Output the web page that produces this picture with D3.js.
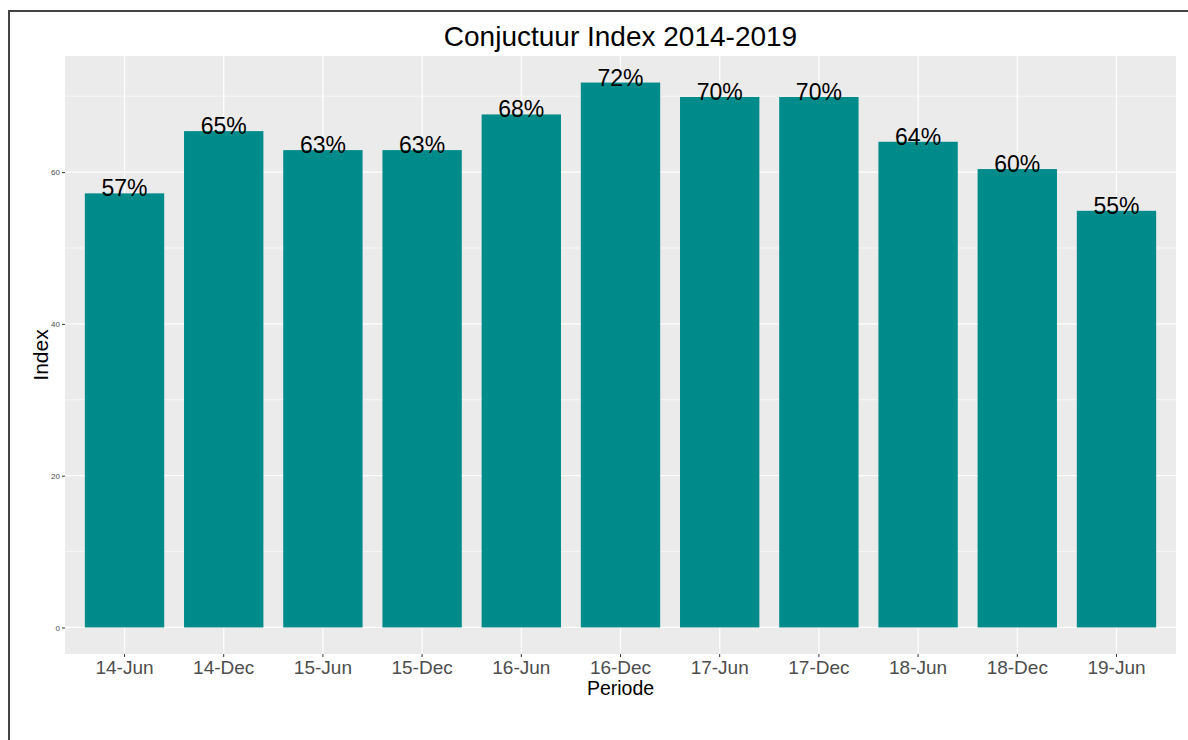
<!DOCTYPE html>
<html>
<head>
<meta charset="utf-8">
<script src="https://cdn.jsdelivr.net/npm/d3@7"></script>
<style>
  body { margin: 0; background: #fff; }
  svg { font-family: "Liberation Sans", Arial, sans-serif; display: block; }
</style>
</head>
<body>
<svg id="chart" width="1188" height="740"></svg>
<script>
var periods = ["14-Jun", "14-Dec", "15-Jun", "15-Dec", "16-Jun", "16-Dec", "17-Jun", "17-Dec", "18-Jun", "18-Dec", "19-Jun"];
var indexValues = [57.2, 65.4, 62.9, 62.9, 67.6, 71.8, 69.9, 69.9, 64.0, 60.4, 54.9];
var yTicks = [0, 20, 40, 60];
var yMinor = [10, 30, 50, 70];

var svg = d3.select("#chart");

// panel box (don't use "top" - clashes with window.top)
var panelL = 65, panelR = 1176, panelT = 56, panelB = 654;

var x = d3.scaleBand()
    .domain(periods)
    .range([panelL, panelR])
    .paddingInner(0.2)
    .paddingOuter(0.2);

var y = d3.scaleLinear()
    .domain([-3.5, 75.3])
    .range([panelB, panelT]);

// outer frame (left + top only)
svg.append("line")
    .attr("x1", 9).attr("x2", 9)
    .attr("y1", 10).attr("y2", 740)
    .attr("stroke", "#444").attr("stroke-width", 2);
svg.append("line")
    .attr("x1", 8).attr("x2", 1188)
    .attr("y1", 11).attr("y2", 11)
    .attr("stroke", "#444").attr("stroke-width", 2);

svg.append("rect")
    .attr("x", panelL).attr("y", panelT)
    .attr("width", panelR - panelL).attr("height", panelB - panelT)
    .attr("fill", "#EBEBEB");

// grid
svg.selectAll("line.minor")
    .data(yMinor)
    .enter()
    .append("line")
    .attr("class", "minor")
    .attr("x1", panelL).attr("x2", panelR)
    .attr("y1", function(d) { return y(d); })
    .attr("y2", function(d) { return y(d); })
    .attr("stroke", "#fff").attr("stroke-width", 0.6);

svg.selectAll("line.major")
    .data(yTicks)
    .enter()
    .append("line")
    .attr("class", "major")
    .attr("x1", panelL).attr("x2", panelR)
    .attr("y1", function(d) { return y(d); })
    .attr("y2", function(d) { return y(d); })
    .attr("stroke", "#fff").attr("stroke-width", 1.2);

svg.selectAll("line.vgrid")
    .data(periods)
    .enter()
    .append("line")
    .attr("class", "vgrid")
    .attr("x1", function(d) { return x(d) + x.bandwidth() / 2; })
    .attr("x2", function(d) { return x(d) + x.bandwidth() / 2; })
    .attr("y1", panelT).attr("y2", panelB)
    .attr("stroke", "#fff").attr("stroke-width", 1.2);

// bars
svg.selectAll("rect.bar")
    .data(indexValues)
    .enter()
    .append("rect")
    .attr("class", "bar")
    .attr("x", function(d, i) { return x(periods[i]); })
    .attr("y", function(d) { return y(d); })
    .attr("width", x.bandwidth())
    .attr("height", function(d) { return y(0) - y(d); })
    .attr("fill", "#008B8B");

// value labels
svg.selectAll("text.lbl")
    .data(indexValues)
    .enter()
    .append("text")
    .attr("class", "lbl")
    .attr("x", function(d, i) { return x(periods[i]) + x.bandwidth() / 2; })
    .attr("y", function(d) { return y(d) + 3; })
    .attr("text-anchor", "middle")
    .attr("font-size", 23)
    .attr("fill", "#000")
    .text(function(d) { return Math.round(d) + "%"; });

// x axis
var xAxis = svg.append("g")
    .attr("transform", "translate(0," + panelB + ")")
    .call(d3.axisBottom(x).tickSize(3).tickPadding(4));
xAxis.select(".domain").remove();
xAxis.selectAll("line").attr("stroke", "#333");
xAxis.selectAll("text")
    .attr("font-size", 19)
    .attr("fill", "#4D4D4D")
    .attr("font-family", "Liberation Sans, Arial, sans-serif");

// y axis
var yAxis = svg.append("g")
    .attr("transform", "translate(" + panelL + ",0)")
    .call(d3.axisLeft(y).tickValues(yTicks).tickSize(3).tickPadding(2));
yAxis.select(".domain").remove();
yAxis.selectAll("line").attr("stroke", "#333");
yAxis.selectAll("text")
    .attr("font-size", 8)
    .attr("fill", "#4D4D4D")
    .attr("font-family", "Liberation Sans, Arial, sans-serif");

// titles
svg.append("text")
    .attr("x", (panelL + panelR) / 2)
    .attr("y", 46)
    .attr("text-anchor", "middle")
    .attr("font-size", 28)
    .attr("fill", "#000")
    .text("Conjuctuur Index 2014-2019");

svg.append("text")
    .attr("x", (panelL + panelR) / 2)
    .attr("y", 695)
    .attr("text-anchor", "middle")
    .attr("font-size", 19.5)
    .attr("fill", "#000")
    .text("Periode");

svg.append("text")
    .attr("transform", "translate(48," + (panelT + panelB) / 2 + ") rotate(-90)")
    .attr("text-anchor", "middle")
    .attr("font-size", 21)
    .attr("fill", "#000")
    .text("Index");
</script>
</body>
</html>
